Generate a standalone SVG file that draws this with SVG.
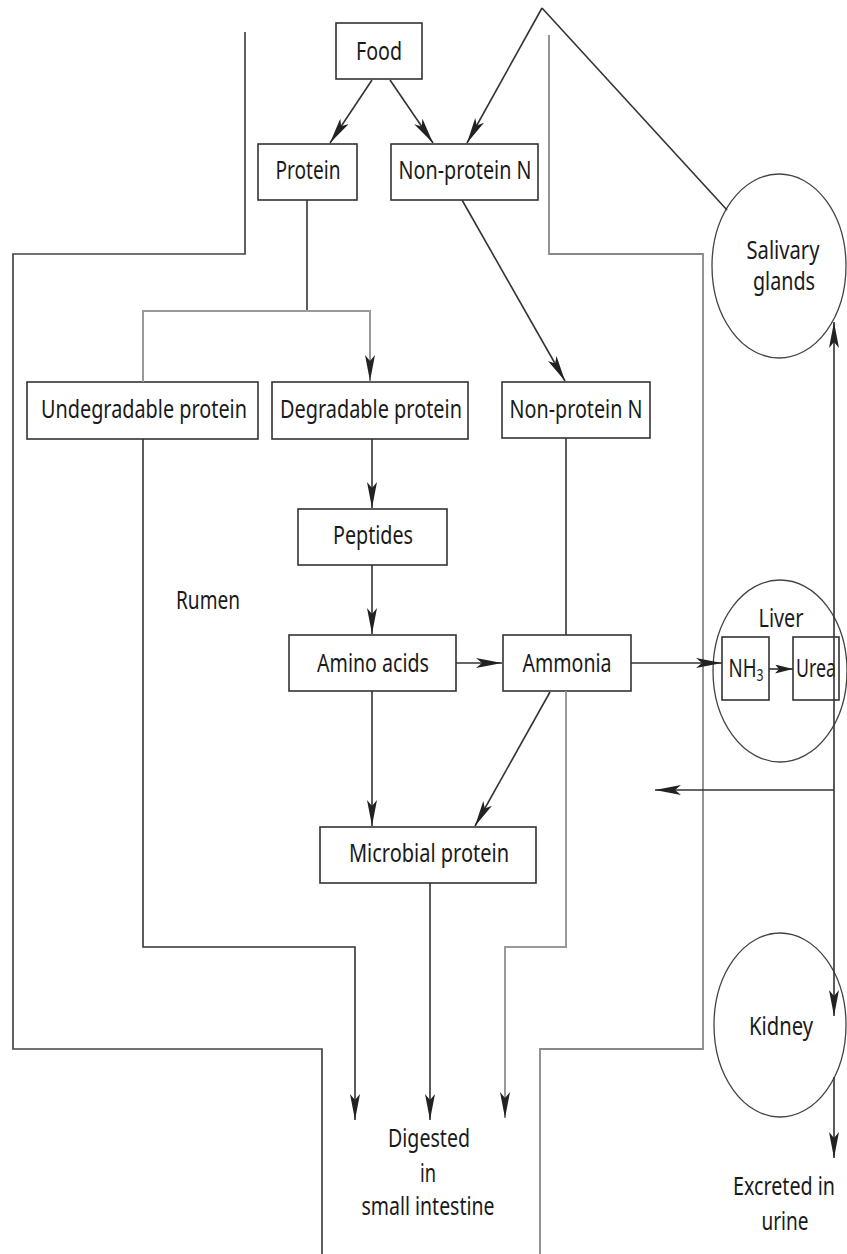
<svg xmlns="http://www.w3.org/2000/svg" width="847" height="1254" viewBox="0 0 847 1254">
<style>
.ln{stroke:#333;stroke-width:1.6;fill:none}
.gr{stroke:#999;stroke-width:2;fill:none}
.wl{stroke:#444;stroke-width:1.7;fill:none}
.wr{stroke:#888;stroke-width:1.8;fill:none}
.box{fill:#fff;stroke:#333;stroke-width:1.6}
.ov{fill:none;stroke:#444;stroke-width:1.3}
.t{font-family:"Noto Sans","Liberation Sans",sans-serif;font-size:26px;fill:#1a1a1a;text-anchor:middle}
</style>
<defs>
<marker id="ah" viewBox="0 0 26 10" refX="26" refY="5" markerWidth="26" markerHeight="10" markerUnits="userSpaceOnUse" orient="auto"><path d="M0,0 L26,5 L0,10 L6,5 Z" fill="#222"/></marker>
<marker id="as" viewBox="0 0 18 9" refX="18" refY="4.5" markerWidth="18" markerHeight="9" markerUnits="userSpaceOnUse" orient="auto"><path d="M0,0 L18,4.5 L0,9 L4,4.5 Z" fill="#222"/></marker>
</defs>
<rect width="847" height="1254" fill="#fff"/>

<g id="rumen-walls">
<path class="wl" d="M245,32 V254 H13 V1049 H322 V1254"/>
<path class="wr" d="M549,35 V254 H703 V1049 H540 V1254"/>
</g>

<g id="nodes">
<g id="food"><rect class="box" x="336" y="23" width="86" height="56"/><text class="t" x="379" y="60" textLength="46" lengthAdjust="spacingAndGlyphs">Food</text></g>
<g id="protein"><rect class="box" x="258" y="144" width="99" height="56"/><text class="t" x="308" y="179" textLength="65" lengthAdjust="spacingAndGlyphs">Protein</text></g>
<g id="npn-food"><rect class="box" x="391" y="144" width="147" height="56"/><text class="t" x="465" y="179" textLength="133" lengthAdjust="spacingAndGlyphs">Non-protein N</text></g>
<g id="undegradable"><rect class="box" x="27" y="382" width="231" height="57"/><text class="t" x="144" y="418" textLength="206" lengthAdjust="spacingAndGlyphs">Undegradable protein</text></g>
<g id="degradable"><rect class="box" x="272" y="382" width="196" height="57"/><text class="t" x="371" y="418" textLength="182" lengthAdjust="spacingAndGlyphs">Degradable protein</text></g>
<g id="npn-rumen"><rect class="box" x="502" y="382" width="148" height="56"/><text class="t" x="576" y="418" textLength="133" lengthAdjust="spacingAndGlyphs">Non-protein N</text></g>
<g id="peptides"><rect class="box" x="298" y="509" width="149" height="56"/><text class="t" x="373" y="544" textLength="80" lengthAdjust="spacingAndGlyphs">Peptides</text></g>
<g id="amino-acids"><rect class="box" x="289" y="635" width="167" height="56"/><text class="t" x="373" y="672" textLength="112" lengthAdjust="spacingAndGlyphs">Amino acids</text></g>
<g id="ammonia"><rect class="box" x="503" y="635" width="128" height="56"/><text class="t" x="567" y="672" textLength="89" lengthAdjust="spacingAndGlyphs">Ammonia</text></g>
<g id="microbial-protein"><rect class="box" x="320" y="827" width="216" height="56"/><text class="t" x="429" y="862" textLength="160" lengthAdjust="spacingAndGlyphs">Microbial protein</text></g>
<g id="rumen-label"><text class="t" x="208" y="609" textLength="64" lengthAdjust="spacingAndGlyphs">Rumen</text></g>
<g id="salivary-glands"><ellipse class="ov" cx="779" cy="266" rx="67" ry="92"/><text class="t" x="783" y="259" textLength="73" lengthAdjust="spacingAndGlyphs">Salivary</text><text class="t" x="784" y="290" textLength="62" lengthAdjust="spacingAndGlyphs">glands</text></g>
<g id="liver"><ellipse class="ov" cx="780" cy="671" rx="67" ry="91"/><text class="t" x="781" y="627" textLength="45" lengthAdjust="spacingAndGlyphs">Liver</text>
<rect class="box" x="722" y="637" width="47" height="63"/><text class="t" x="746" y="677" textLength="35" lengthAdjust="spacingAndGlyphs">NH<tspan font-size="17" dy="4">3</tspan></text>
<rect class="box" x="793" y="637" width="46" height="63"/><text class="t" x="816" y="677" textLength="40" lengthAdjust="spacingAndGlyphs">Urea</text></g>
<g id="kidney"><ellipse class="ov" cx="780" cy="1025" rx="66" ry="92"/><text class="t" x="781" y="1035" textLength="64" lengthAdjust="spacingAndGlyphs">Kidney</text></g>
<g id="digested"><text class="t" x="429" y="1147" textLength="82" lengthAdjust="spacingAndGlyphs">Digested</text><text class="t" x="428" y="1182" textLength="16" lengthAdjust="spacingAndGlyphs">in</text><text class="t" x="428" y="1215" textLength="133" lengthAdjust="spacingAndGlyphs">small intestine</text></g>
<g id="excreted"><text class="t" x="784" y="1195" textLength="102" lengthAdjust="spacingAndGlyphs">Excreted in</text><text class="t" x="785" y="1230" textLength="47" lengthAdjust="spacingAndGlyphs">urine</text></g>
</g>

<g id="connectors">
<path class="ln" d="M372,80 L330,143" marker-end="url(#ah)"/>
<path class="ln" d="M390,80 L433,143" marker-end="url(#ah)"/>
<path class="ln" d="M542,8 L467,143" marker-end="url(#ah)"/>
<path class="ln" d="M542,8 L727,210"/>
<path class="ln" d="M462,200 L565,381" marker-end="url(#ah)"/>
<path class="ln" d="M307,200 V311"/>
<path class="gr" d="M143,382 V311 H370 V381" marker-end="url(#ah)"/>
<path class="ln" d="M372,439 V508" marker-end="url(#ah)"/>
<path class="ln" d="M372,565 V634" marker-end="url(#ah)"/>
<path class="ln" d="M456,663 H502" marker-end="url(#ah)"/>
<path class="ln" d="M631,663 H722" marker-end="url(#ah)"/>
<path class="ln" d="M769,669 H793" marker-end="url(#as)"/>
<path class="ln" d="M566,438 V635"/>
<path class="ln" d="M372,691 V826" marker-end="url(#ah)"/>
<path class="ln" d="M550,692 L475,826" marker-end="url(#ah)"/>
<path class="ln" d="M430,883 V1120" marker-end="url(#ah)"/>
<path class="ln" d="M143,439 V947 H355 V1120" marker-end="url(#ah)"/>
<path class="gr" d="M566,691 V947 H505 V1118" marker-end="url(#ah)"/>
<path class="ln" d="M834,790 V322" marker-end="url(#ah)"/>
<path class="ln" d="M834,790 V1016" marker-end="url(#ah)"/>
<path class="ln" d="M834,790 H655" marker-end="url(#ah)"/>
<path class="ln" d="M834,1077 V1158" marker-end="url(#ah)"/>
</g>
</svg>
